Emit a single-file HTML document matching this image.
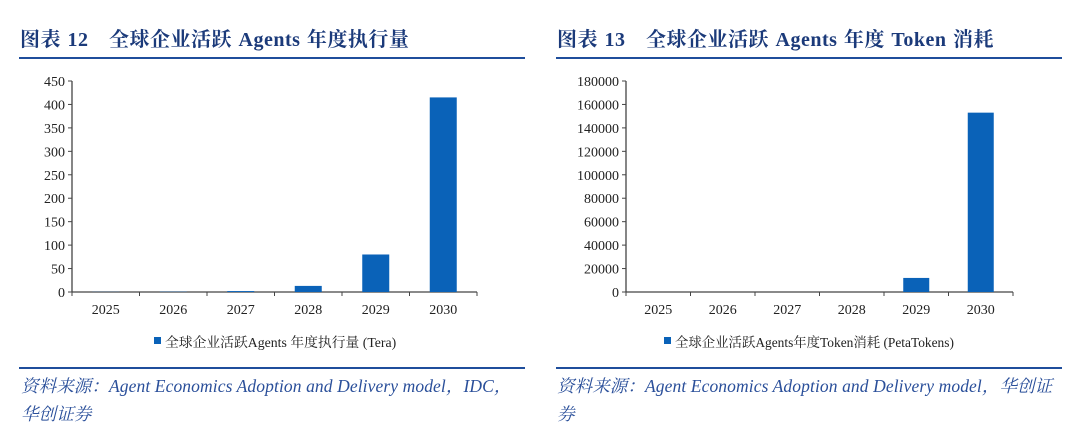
<!DOCTYPE html>
<html><head><meta charset="utf-8"><style>
body{margin:0;width:1080px;height:447px;background:#fff;overflow:hidden;font-family:"Liberation Serif","Noto Serif CJK SC",serif}
.t{position:absolute;font-weight:bold;font-size:20px;color:#1b3a7a;top:23px;letter-spacing:0.5px;word-spacing:1px}
.ln{position:absolute;height:2px;background:#1f4e9c}
.src{position:absolute;font-style:italic;font-size:17.5px;color:#2a4f9a;line-height:28px;letter-spacing:0.1px}
svg{position:absolute;left:0;top:0}
</style></head><body>
<div class="t" style="left:20px">图表 12　全球企业活跃 Agents 年度执行量</div>
<div class="t" style="left:557px">图表 13　全球企业活跃 Agents 年度 Token 消耗</div>
<div class="ln" style="left:19px;width:506px;top:57px"></div>
<div class="ln" style="left:556px;width:506px;top:57px"></div>
<div class="ln" style="left:19px;width:506px;top:367px"></div>
<div class="ln" style="left:556px;width:506px;top:367px"></div>
<div class="src" style="left:21px;top:372px;width:510px">资料来源：Agent Economics Adoption and Delivery model，IDC，<br>华创证券</div>
<div class="src" style="left:557px;top:372px;width:510px">资料来源：Agent Economics Adoption and Delivery model，华创证<br>券</div>
<svg id="s" width="1080" height="447"></svg>
<script>
const cats=["2025","2026","2027","2028","2029","2030"];
const vals1=[0.3,0.6,2,13,80,415];
const ticks1=[0,50,100,150,200,250,300,350,400,450];
const vals2=[0,0,0,0,12000,153000];
const ticks2=[0,20000,40000,60000,80000,100000,120000,140000,160000,180000];
const NS="http://www.w3.org/2000/svg";
const s=document.getElementById('s');
function mk(t,a,txt){const e=document.createElementNS(NS,t);for(const k in a)e.setAttribute(k,a[k]);if(txt!=null)e.textContent=txt;s.appendChild(e);return e;}
function chart(x0,x1,y0,y1,vals,ticks,bw,legend,lx,pfx,lfs){
 const max=ticks[ticks.length-1];
 const y=v=>y0-(v/max)*(y0-y1);
 const cw=(x1-x0)/cats.length;
 const ax=mk('line',{x1:x0,y1:y1,x2:x0,y2:y0,stroke:'#444','stroke-width':1.3});
 
 const bx=mk('line',{x1:x0,y1:y0,x2:x1,y2:y0,stroke:'#444','stroke-width':1.3});
 
 ticks.forEach(t=>{mk('line',{x1:x0-4,y1:y(t),x2:x0,y2:y(t),stroke:'#444'});
  const l=mk('text',{x:x0-7,y:y(t)+5,'text-anchor':'end','font-size':14,fill:'#222'},t);
  });
 for(let i=0;i<=cats.length;i++)mk('line',{x1:x0+i*cw,y1:y0,x2:x0+i*cw,y2:y0+4,stroke:'#444'});
 cats.forEach((c,i)=>{const cx=x0+(i+0.5)*cw;
  const l=mk('text',{x:cx,y:y0+22,'text-anchor':'middle','font-size':14,fill:'#222'},c);
  
  const h=y0-y(vals[i]);
  if(h>0){const b=mk('rect',{x:cx-bw/2,y:y(vals[i]),width:bw,height:h,fill:'#0a62b8'});
  }});
 const lg=mk('rect',{x:lx,y:337,width:7,height:7,fill:'#0a62b8'});
 
 const lt=mk('text',{x:lx+11,y:347,'font-size':lfs,fill:'#222'},legend);
 
}
chart(72,477,292,81,vals1,ticks1,27,"全球企业活跃Agents 年度执行量 (Tera)",154,'c12',13.8);
chart(626,1013,292,81,vals2,ticks2,26,"全球企业活跃Agents年度Token消耗 (PetaTokens)",664,'c13',13.4);
</script>
</body></html>
